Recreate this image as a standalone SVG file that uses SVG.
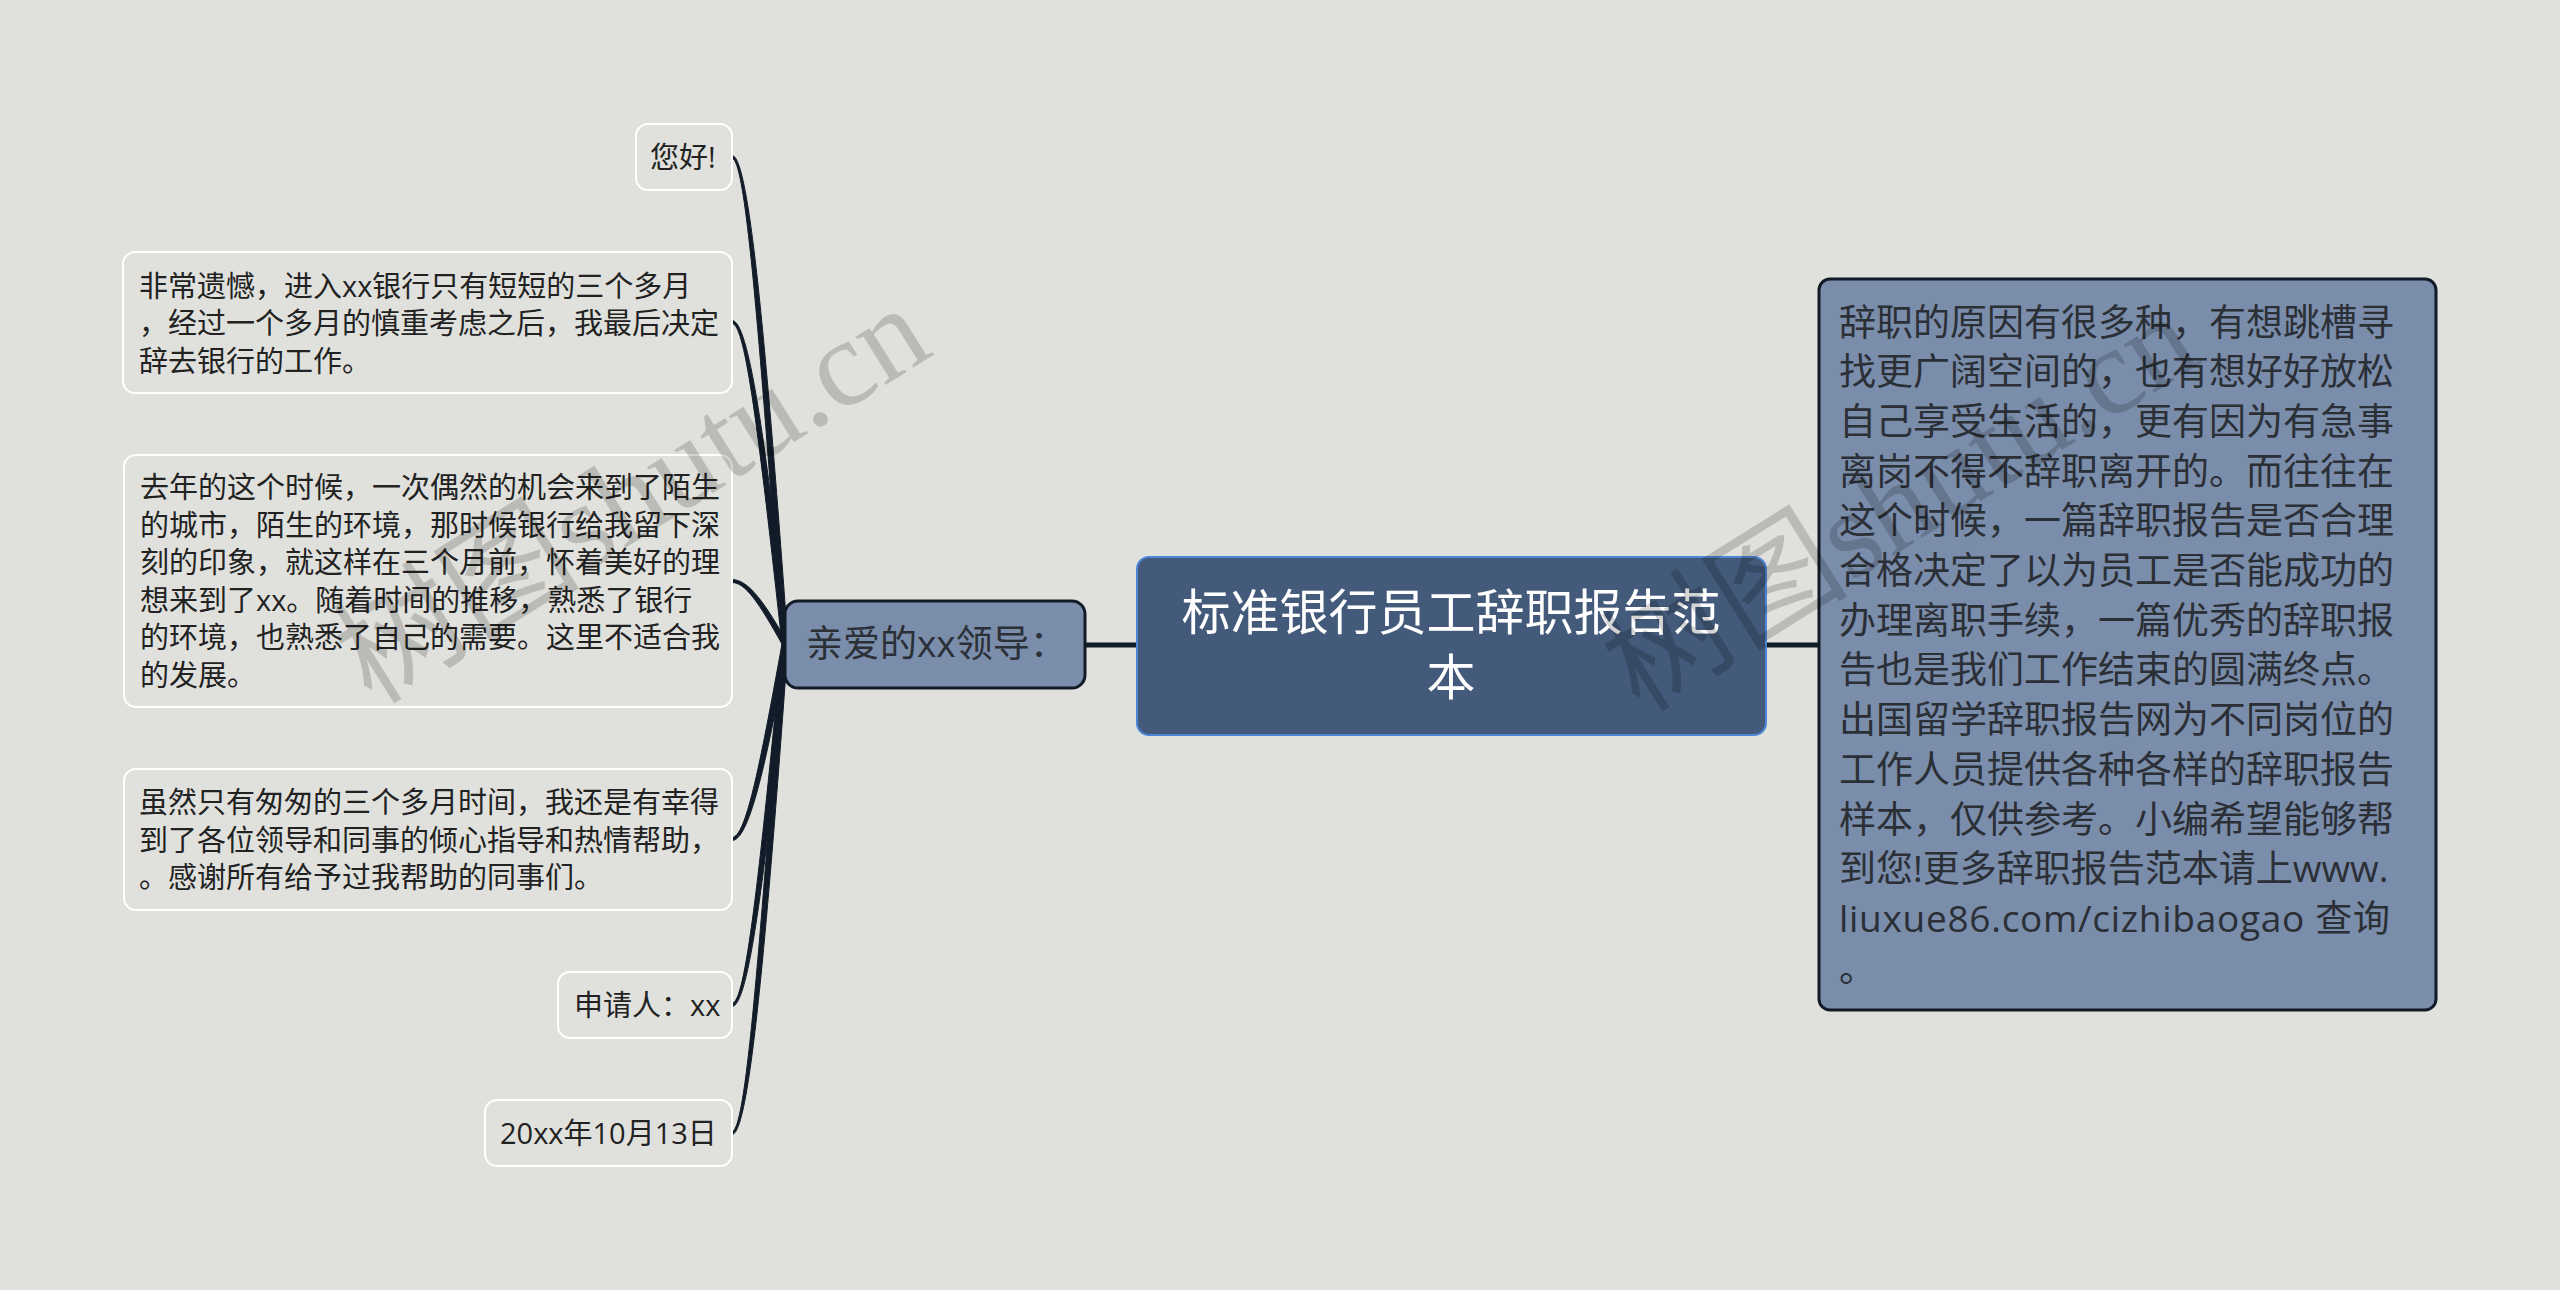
<svg xmlns="http://www.w3.org/2000/svg" width="2560" height="1290" viewBox="0 0 2560 1290">
<style>
.bg{fill:#e0e1dd}
.leaf{fill:#e0e1dd;stroke:#ffffff;stroke-width:2}
.leaft{font-family:"Open Sans","Noto Sans CJK SC",sans-serif;font-size:29px;fill:#222222}
.sub{fill:#7a8dab;stroke:#111a26;stroke-width:3}
.subt{font-family:"Open Sans","Noto Sans CJK SC",sans-serif;font-size:37px;fill:#2b2f36}
.root{fill:#435a7a;stroke:#4d86d6;stroke-width:2}
.roott{font-family:"Open Sans","Noto Sans CJK SC",sans-serif;font-size:49px;fill:#ffffff;text-anchor:middle}
.line{fill:none;stroke:#121c28;stroke-width:5}
.conn{fill:#121c28;stroke:#121c28;stroke-width:1;stroke-linejoin:round}
.wm{font-family:"Liberation Serif","Noto Sans CJK SC",serif;font-size:124px;fill:#000000;fill-opacity:0.17}
</style>
<rect class="bg" x="0" y="0" width="2560" height="1290"/>

<g id="connectors">
<path class="line" d="M1085,645 L1137,645"/>
<path class="line" d="M1766,645 L1819,645"/>
<path class="conn" d="M732,155.5 C748.5,155.5 765,327 788,644 L782,644 C759,327 745.5,158.5 732,158.5 Z"/>
<path class="conn" d="M732,320.5 C748.5,320.5 765,435 788,644 L782,644 C759,435 745.5,323.5 732,323.5 Z"/>
<path class="conn" d="M732,579.5 C748.5,579.5 765,603 788,644 L782,644 C759,603 745.5,582.5 732,582.5 Z"/>
<path class="conn" d="M732,837.5 C745.5,837.5 759,771 782,644 L788,644 C765,771 748.5,840.5 732,840.5 Z"/>
<path class="conn" d="M732,1003.5 C745.5,1003.5 759,879 782,644 L788,644 C765,879 748.5,1006.5 732,1006.5 Z"/>
<path class="conn" d="M732,1131.5 C745.5,1131.5 759,962 782,644 L788,644 C765,962 748.5,1134.5 732,1134.5 Z"/>
</g>

<g id="n-hello">
<rect class="leaf" x="636" y="124" width="96" height="66" rx="12"/>
<text class="leaft" x="650" y="168">您好!</text>
</g>

<g id="n-regret">
<rect class="leaf" x="123" y="252" width="609" height="141" rx="12"/>
<text class="leaft" x="139" y="297">非常遗憾，进入xx银行只有短短的三个多月</text>
<text class="leaft" x="139" y="334">，经过一个多月的慎重考虑之后，我最后决定</text>
<text class="leaft" x="139" y="372">辞去银行的工作。</text>
</g>

<g id="n-lastyear">
<rect class="leaf" x="124" y="455" width="608" height="252" rx="12"/>
<text class="leaft" x="140" y="498">去年的这个时候，一次偶然的机会来到了陌生</text>
<text class="leaft" x="140" y="535.5">的城市，陌生的环境，那时候银行给我留下深</text>
<text class="leaft" x="140" y="573">刻的印象，就这样在三个月前，怀着美好的理</text>
<text class="leaft" x="140" y="610.5">想来到了xx。随着时间的推移，熟悉了银行</text>
<text class="leaft" x="140" y="648">的环境，也熟悉了自己的需要。这里不适合我</text>
<text class="leaft" x="140" y="685.5">的发展。</text>
</g>

<g id="n-thanks">
<rect class="leaf" x="124" y="769" width="608" height="141" rx="12"/>
<text class="leaft" x="139" y="813">虽然只有匆匆的三个多月时间，我还是有幸得</text>
<text class="leaft" x="139" y="850.5">到了各位领导和同事的倾心指导和热情帮助，</text>
<text class="leaft" x="139" y="888">。感谢所有给予过我帮助的同事们。</text>
</g>

<g id="n-applicant">
<rect class="leaf" x="558" y="972" width="174" height="66" rx="12"/>
<text class="leaft" x="574" y="1016">申请人：xx</text>
</g>

<g id="n-date">
<rect class="leaf" x="485" y="1100" width="247" height="66" rx="12"/>
<text class="leaft" x="500" y="1144">20xx年10月13日</text>
</g>

<g id="n-dear">
<rect class="sub" x="785" y="601" width="300" height="87" rx="13"/>
<text class="subt" x="806" y="657">亲爱的xx领导：</text>
</g>

<g id="n-root">
<rect class="root" x="1137" y="557" width="629" height="178" rx="12"/>
<text class="roott" x="1451" y="630">标准银行员工辞职报告范</text>
<text class="roott" x="1451" y="695">本</text>
</g>

<g id="n-reason">
<rect class="sub" x="1819" y="279" width="617" height="731" rx="11" stroke-width="2.5"/>
<text class="subt" x="1839" y="335.5">辞职的原因有很多种，有想跳槽寻</text>
<text class="subt" x="1839" y="385.2">找更广阔空间的，也有想好好放松</text>
<text class="subt" x="1839" y="434.9">自己享受生活的，更有因为有急事</text>
<text class="subt" x="1839" y="484.6">离岗不得不辞职离开的。而往往在</text>
<text class="subt" x="1839" y="534.3">这个时候，一篇辞职报告是否合理</text>
<text class="subt" x="1839" y="584">合格决定了以为员工是否能成功的</text>
<text class="subt" x="1839" y="633.7">办理离职手续，一篇优秀的辞职报</text>
<text class="subt" x="1839" y="683.4">告也是我们工作结束的圆满终点。</text>
<text class="subt" x="1839" y="733.1">出国留学辞职报告网为不同岗位的</text>
<text class="subt" x="1839" y="782.8">工作人员提供各种各样的辞职报告</text>
<text class="subt" x="1839" y="832.5">样本，仅供参考。小编希望能够帮</text>
<text class="subt" x="1839" y="882.2">到您!更多辞职报告范本请上www.</text>
<text class="subt" x="1839" y="931.9" textLength="551" lengthAdjust="spacing">liuxue86.com/cizhibaogao 查询</text>
<text class="subt" x="1839" y="981.6">。</text>
</g>

<g id="watermarks">
<text class="wm" x="372" y="706" transform="rotate(-32 372 706)">树图shutu.cn</text>
<text class="wm" x="1640" y="714" transform="rotate(-32 1640 714)">树图shutu.cn</text>
</g>
</svg>
